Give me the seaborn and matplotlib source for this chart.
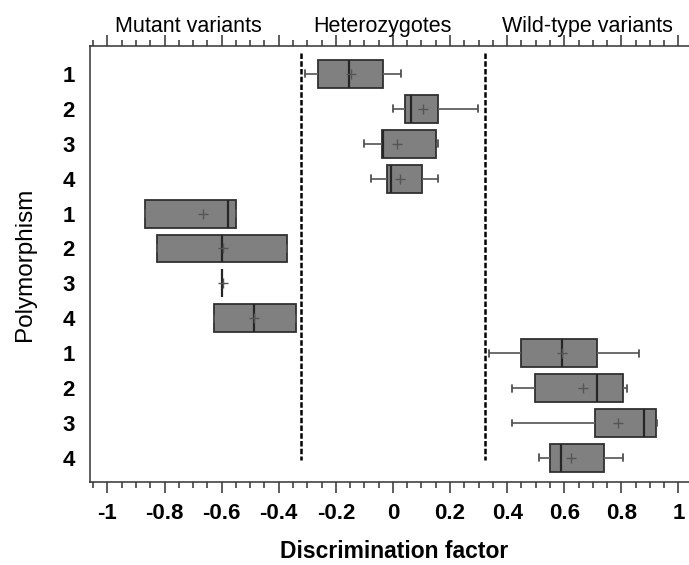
import numpy as np
import pandas as pd
import matplotlib
matplotlib.use("Agg")
import matplotlib.pyplot as plt
import matplotlib.transforms as mtransforms
from matplotlib.ticker import MultipleLocator, FuncFormatter
import seaborn as sns

# ---------------- data ----------------
group_names = ["Mutant variants", "Heterozygotes", "Wild-type variants"]
group_label_x = [-0.715, -0.038, 0.682]
group_boundaries = [-0.322, 0.322]

row_ids = ["H1", "H2", "H3", "H4", "M1", "M2", "M3", "M4", "W1", "W2", "W3", "W4"]
tick_labels = ["1", "2", "3", "4", "1", "2", "3", "4", "1", "2", "3", "4"]

whisker_low = [-0.308, 0.001, -0.101, -0.078,
               -0.869, -0.828, -0.598, -0.627,
               0.337, 0.418, 0.418, 0.510]
q1 = [-0.262, 0.042, -0.040, -0.022,
      -0.869, -0.828, -0.598, -0.627,
      0.447, 0.498, 0.708, 0.550]
median = [-0.153, 0.063, -0.034, -0.006,
          -0.577, -0.598, -0.598, -0.486,
          0.591, 0.716, 0.880, 0.589]
q3 = [-0.036, 0.159, 0.152, 0.101,
      -0.551, -0.372, -0.598, -0.340,
      0.715, 0.807, 0.920, 0.738]
whisker_high = [0.030, 0.299, 0.158, 0.159,
                -0.551, -0.372, -0.598, -0.340,
                0.862, 0.821, 0.926, 0.807]
means = [-0.148, 0.104, 0.015, 0.025,
         -0.664, -0.596, -0.596, -0.486,
         0.591, 0.664, 0.789, 0.625]

x_major = [-1, -0.8, -0.6, -0.4, -0.2, 0, 0.2, 0.4, 0.6, 0.8, 1]

# five-number samples so that the box statistics equal the read values
records = []
for i, r in enumerate(row_ids):
    for v in (whisker_low[i], q1[i], median[i], q3[i], whisker_high[i]):
        records.append({"row": r, "value": v})
df = pd.DataFrame(records)

# ---------------- style ----------------
sns.set_style("white")
plt.rcParams["font.family"] = ["Liberation Sans", "DejaVu Sans"]
plt.rcParams["axes.unicode_minus"] = False
plt.rcParams["text.color"] = "black"
plt.rcParams["axes.labelcolor"] = "black"
plt.rcParams["xtick.color"] = "black"
plt.rcParams["ytick.color"] = "black"

fig = plt.figure(figsize=(6.89, 5.65), dpi=100)
ax = fig.add_axes([90 / 689, 1 - 482 / 565, 1 - 90 / 689, (482 - 46) / 565])

sns.boxplot(
    data=df, x="value", y="row", order=row_ids, orient="h",
    whis=(0, 100), width=0.8, color="#808080", saturation=1,
    linecolor="#303030", linewidth=1.3, showfliers=False,
    capwidths=0.2,
    whiskerprops=dict(color="#606060", linewidth=1.3),
    capprops=dict(color="#505050", linewidth=1.3),
    medianprops=dict(color="#262626", linewidth=1.6),
    ax=ax,
)

sns.pointplot(
    x=means, y=row_ids, order=row_ids, orient="h",
    linestyle="none", marker="+", markersize=7, markeredgewidth=1.0,
    color="#555555", errorbar=None, ax=ax, zorder=6,
)

ax.vlines(group_boundaries, -0.6, 11.05, colors="black", linewidth=1.8,
          linestyles=(0, (2.2, 0.9)), zorder=4)

trans = mtransforms.blended_transform_factory(ax.transData, ax.transAxes)
for name, gx in zip(group_names, group_label_x):
    ax.text(gx, 1.032, name, transform=trans, ha="center", va="baseline",
            fontsize=15.5, color="black")

ax.set_xlim(-1.061, 1.037)
ax.set_ylim(11.69, -0.80)
ax.set_yticks(range(len(row_ids)))
ax.set_yticklabels(tick_labels)
ax.set_xticks(x_major)
ax.xaxis.set_minor_locator(MultipleLocator(0.05))
ax.xaxis.set_major_formatter(FuncFormatter(lambda v, p: f"{round(v, 2):g}"))

ax.tick_params(axis="x", which="both", direction="out", top=True, bottom=True,
               labeltop=False, labelbottom=True, color="#333333", width=1.1)
ax.tick_params(axis="x", which="major", length=8, pad=7, labelsize=16)
ax.tick_params(axis="x", which="minor", length=4.5)
ax.tick_params(axis="y", which="both", left=False, length=0, pad=11, labelsize=16)
for lab in ax.get_xticklabels() + ax.get_yticklabels():
    lab.set_fontweight("bold")

for side in ("left", "top", "bottom"):
    ax.spines[side].set_color("#333333")
    ax.spines[side].set_linewidth(1.1)
ax.spines["right"].set_visible(False)

ax.set_xlabel("Discrimination factor", fontsize=16.5, fontweight="bold")
ax.set_ylabel("Polymorphism", fontsize=17.5)
ax.xaxis.set_label_coords(0.508, -0.134)
ax.yaxis.set_label_coords(-0.090, 0.5)

fig.savefig("out.png", dpi=100)
